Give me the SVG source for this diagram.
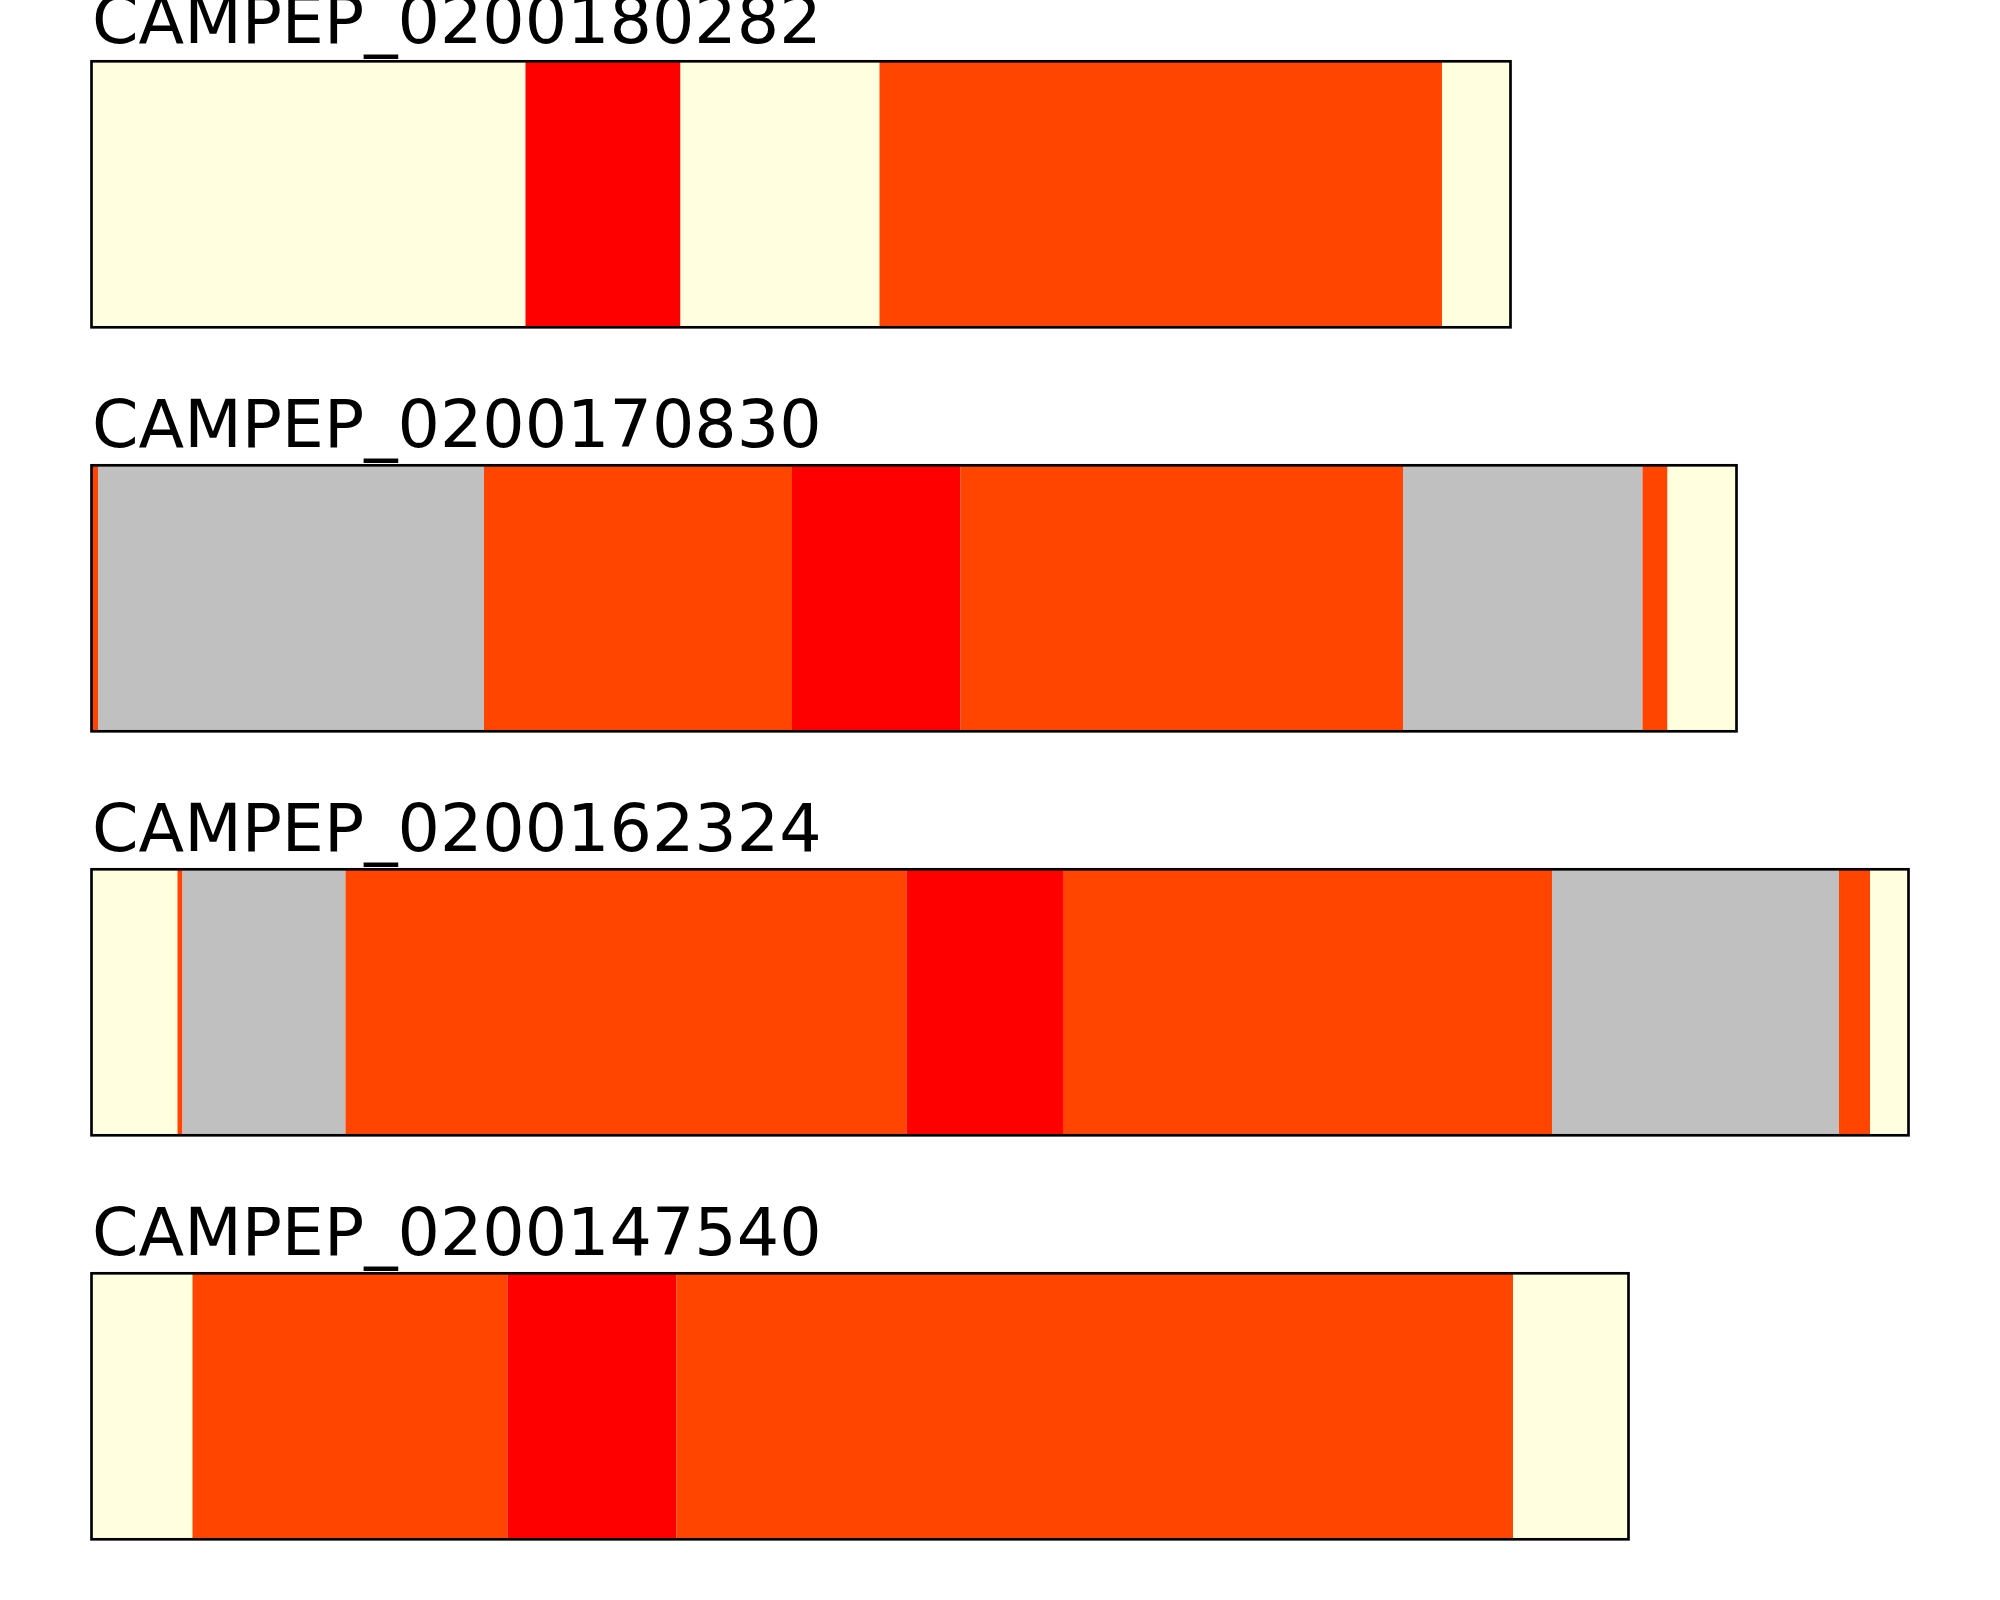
<svg xmlns="http://www.w3.org/2000/svg" width="2000" height="1600" viewBox="0 0 2000 1600">
<style>
.cr{fill:#FFFFE0}
.rd{fill:#FF0000}
.or{fill:#FF4500}
.gy{fill:#C0C0C0}
.bd{fill:none;stroke:#000000;stroke-width:2.67}
.lb{font-family:"DejaVu Sans",sans-serif;font-size:66.67px;fill:#000000}
</style>
<rect width="2000" height="1600" fill="#FFFFFF"/>
<g id="p1">
<text class="lb" x="92" y="43">CAMPEP_0200180282</text>
<rect class="cr" x="91.5" y="61.3" width="434" height="266"/>
<rect class="rd" x="525.5" y="61.3" width="155" height="266"/>
<rect class="cr" x="680.5" y="61.3" width="199" height="266"/>
<rect class="or" x="879.5" y="61.3" width="562.5" height="266"/>
<rect class="cr" x="1442" y="61.3" width="68.5" height="266"/>
<rect class="bd" x="91.5" y="61.3" width="1419" height="266"/>
</g>
<g id="p2">
<text class="lb" x="92" y="447">CAMPEP_0200170830</text>
<rect class="or" x="91.5" y="465.3" width="6.5" height="266"/>
<rect class="gy" x="98" y="465.3" width="386" height="266"/>
<rect class="or" x="484" y="465.3" width="308" height="266"/>
<rect class="rd" x="792" y="465.3" width="168.5" height="266"/>
<rect class="or" x="960.5" y="465.3" width="442.5" height="266"/>
<rect class="gy" x="1403" y="465.3" width="239.5" height="266"/>
<rect class="or" x="1642.5" y="465.3" width="25" height="266"/>
<rect class="cr" x="1667.5" y="465.3" width="69" height="266"/>
<rect class="bd" x="91.5" y="465.3" width="1645" height="266"/>
</g>
<g id="p3">
<text class="lb" x="92" y="851">CAMPEP_0200162324</text>
<rect class="cr" x="91.5" y="869.3" width="86" height="266"/>
<rect class="or" x="177.5" y="869.3" width="5" height="266"/>
<rect class="gy" x="182.5" y="869.3" width="163" height="266"/>
<rect class="or" x="345.5" y="869.3" width="561" height="266"/>
<rect class="rd" x="906.5" y="869.3" width="156.5" height="266"/>
<rect class="or" x="1063" y="869.3" width="489" height="266"/>
<rect class="gy" x="1552" y="869.3" width="287" height="266"/>
<rect class="or" x="1839" y="869.3" width="31" height="266"/>
<rect class="cr" x="1870" y="869.3" width="38.5" height="266"/>
<rect class="bd" x="91.5" y="869.3" width="1817" height="266"/>
</g>
<g id="p4">
<text class="lb" x="92" y="1255">CAMPEP_0200147540</text>
<rect class="cr" x="91.5" y="1273.3" width="101" height="266"/>
<rect class="or" x="192.5" y="1273.3" width="315" height="266"/>
<rect class="rd" x="507.5" y="1273.3" width="169" height="266"/>
<rect class="or" x="676.5" y="1273.3" width="836.5" height="266"/>
<rect class="cr" x="1513" y="1273.3" width="115.5" height="266"/>
<rect class="bd" x="91.5" y="1273.3" width="1537" height="266"/>
</g>
<g id="connectors"/>
</svg>
